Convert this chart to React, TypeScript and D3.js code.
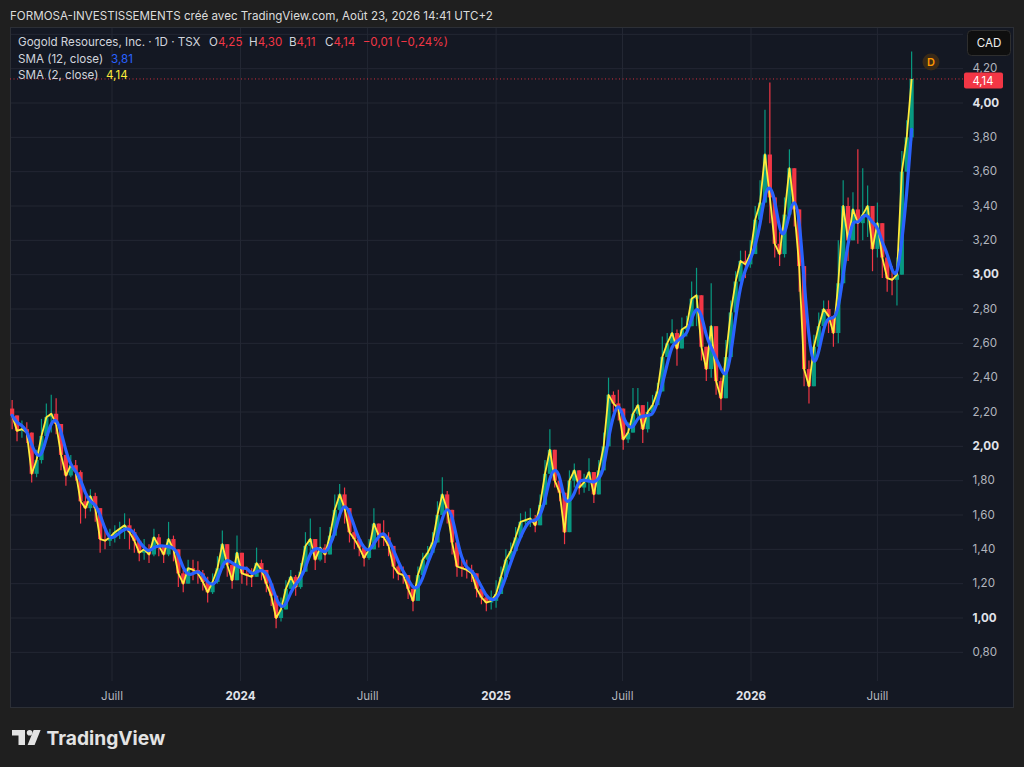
import * as d3 from "d3";

// weekly bars (TSX: GGD), first bar = week of 2023-02-06
const firstWeek = new Date(2023, 1, 8);
const firstOpen = 2.22;

const weekCloses = [
  2.18, 2.09, 2.1, 2.08, 1.84, 1.92, 2.06, 2.17, 2.19, 2.13,
  1.95, 1.83, 1.89, 1.85, 1.68, 1.64, 1.71, 1.64, 1.46, 1.45,
  1.47, 1.5, 1.52, 1.54, 1.5, 1.45, 1.38, 1.4, 1.37, 1.47,
  1.42, 1.37, 1.46, 1.4, 1.26, 1.2, 1.29, 1.28, 1.26, 1.21,
  1.15, 1.21, 1.29, 1.43, 1.31, 1.22, 1.38, 1.26, 1.25, 1.24,
  1.32, 1.28, 1.2, 1.13, 1.0, 1.05, 1.17, 1.24, 1.18, 1.27,
  1.42, 1.46, 1.34, 1.41, 1.37, 1.48, 1.63, 1.72, 1.64, 1.5,
  1.46, 1.41, 1.35, 1.4, 1.55, 1.48, 1.47, 1.42, 1.3, 1.26,
  1.25, 1.17, 1.1, 1.25, 1.34, 1.38, 1.44, 1.6, 1.72, 1.63,
  1.44, 1.3, 1.29, 1.28, 1.26, 1.17, 1.12, 1.09, 1.1, 1.14,
  1.24, 1.34, 1.39, 1.47, 1.56, 1.57, 1.58, 1.54, 1.66, 1.84,
  1.98, 1.8, 1.73, 1.5, 1.8, 1.86, 1.76, 1.79, 1.85, 1.72,
  1.86, 2.0, 2.3, 2.25, 2.22, 2.04, 2.08, 2.19, 2.24, 2.1,
  2.2, 2.24, 2.32, 2.52, 2.6, 2.66, 2.57, 2.68, 2.7, 2.86,
  2.88, 2.58, 2.45, 2.7, 2.38, 2.28, 2.52, 2.78, 2.96, 3.08,
  3.06, 3.12, 3.32, 3.42, 3.7, 3.45, 3.18, 3.12, 3.35, 3.62,
  3.38, 3.05, 2.45, 2.35, 2.58, 2.7, 2.8, 2.76, 2.66, 2.95,
  3.4, 3.2, 3.38, 3.3, 3.35, 3.4, 3.15, 3.3, 3.1, 2.98,
  2.97, 3.0, 3.6, 3.8, 4.14,
];

const weekHighs = [
  2.27, 2.16, 2.15, 2.14, 2.08, 1.98, 2.16, 2.25, 2.3, 2.28,
  2.08, 1.92, 1.95, 1.92, 1.86, 1.72, 1.75, 1.73, 1.58, 1.52,
  1.52, 1.54, 1.56, 1.61, 1.58, 1.52, 1.44, 1.46, 1.43, 1.52,
  1.49, 1.42, 1.56, 1.48, 1.35, 1.28, 1.34, 1.34, 1.33, 1.28,
  1.24, 1.26, 1.36, 1.51, 1.4, 1.3, 1.48, 1.33, 1.3, 1.29,
  1.41, 1.34, 1.27, 1.2, 1.08, 1.12, 1.22, 1.28, 1.25, 1.32,
  1.5, 1.58, 1.44, 1.53, 1.43, 1.53, 1.72, 1.78, 1.76, 1.58,
  1.54, 1.46, 1.4, 1.46, 1.64, 1.55, 1.57, 1.5, 1.38, 1.31,
  1.3, 1.23, 1.16, 1.3, 1.38, 1.42, 1.5, 1.68, 1.82, 1.74,
  1.58, 1.38, 1.35, 1.34, 1.31, 1.23, 1.18, 1.14, 1.16, 1.22,
  1.3, 1.4, 1.44, 1.53, 1.61, 1.62, 1.64, 1.6, 1.72, 1.92,
  2.1, 1.9, 1.8, 1.68, 1.86, 1.9, 1.82, 1.84, 1.93, 1.79,
  1.92, 2.08, 2.4, 2.32, 2.33, 2.1, 2.14, 2.34, 2.34, 2.2,
  2.26, 2.3, 2.37, 2.64, 2.66, 2.74, 2.68, 2.75, 2.76, 2.96,
  3.04, 2.8, 2.55, 2.95, 2.55, 2.4, 2.62, 2.85, 3.02, 3.14,
  3.14, 3.2, 3.4, 3.55, 3.96, 4.12, 3.4, 3.25, 3.45, 3.73,
  3.6, 3.3, 2.85, 2.5, 2.65, 2.78, 2.85, 2.85, 2.76, 3.2,
  3.55, 3.45, 3.48, 3.73, 3.62, 3.52, 3.35, 3.42, 3.22, 3.12,
  3.05, 3.1, 3.72, 3.9, 4.3,
];

const weekLows = [
  2.1, 2.03, 2.05, 2.02, 1.79, 1.82, 1.9, 2.06, 2.08, 2.07,
  1.86, 1.77, 1.82, 1.8, 1.55, 1.58, 1.62, 1.56, 1.38, 1.4,
  1.42, 1.44, 1.46, 1.46, 1.4, 1.38, 1.33, 1.34, 1.32, 1.36,
  1.36, 1.32, 1.36, 1.33, 1.18, 1.15, 1.2, 1.22, 1.2, 1.16,
  1.09, 1.14, 1.2, 1.32, 1.24, 1.17, 1.22, 1.2, 1.19, 1.18,
  1.24, 1.22, 1.15, 1.07, 0.94, 0.98, 1.08, 1.18, 1.13, 1.17,
  1.32, 1.38, 1.28, 1.33, 1.32, 1.4, 1.55, 1.62, 1.55, 1.44,
  1.4, 1.36, 1.3, 1.34, 1.44, 1.41, 1.42, 1.36, 1.23, 1.22,
  1.2, 1.11, 1.04, 1.1, 1.26, 1.31, 1.37, 1.48, 1.62, 1.55,
  1.37, 1.24, 1.24, 1.23, 1.21, 1.12, 1.08, 1.04, 1.05, 1.06,
  1.16, 1.27, 1.34, 1.4, 1.49, 1.52, 1.53, 1.5, 1.56, 1.72,
  1.9, 1.76, 1.68, 1.43, 1.55, 1.76, 1.72, 1.73, 1.74, 1.67,
  1.78, 1.9, 2.18, 2.2, 2.15, 1.98, 2.02, 2.13, 2.16, 2.02,
  2.08, 2.18, 2.26, 2.44, 2.52, 2.6, 2.47, 2.6, 2.64, 2.76,
  2.7, 2.5, 2.38, 2.4, 2.3, 2.21, 2.3, 2.58, 2.82, 2.98,
  2.98, 3.04, 3.16, 3.3, 3.45, 3.3, 3.1, 3.05, 3.1, 3.38,
  3.28, 2.9, 2.35, 2.25, 2.4, 2.58, 2.68, 2.66, 2.58, 2.6,
  3.12, 3.08, 3.22, 3.18, 3.2, 3.22, 3.02, 3.1, 2.98, 2.9,
  2.88, 2.82, 3.0, 3.6, 3.78,
];

const priceTicks = [0.8, 1.0, 1.2, 1.4, 1.6, 1.8, 2.0, 2.2, 2.4, 2.6, 2.8, 3.0, 3.2, 3.4, 3.6, 3.8, 4.0, 4.2, 4.4];
const timeTickDates = ["2023-07-01", "2024-01-01", "2024-07-01", "2025-01-01", "2025-07-01", "2026-01-01", "2026-07-01"];
const timeTickLabels = ["Juill", "2024", "Juill", "2025", "Juill", "2026", "Juill"];

// legend (last bar O/H/B/C) as shown in the header
const legendKeys = ["O", "H", "B", "C"];
const legendValues = [4.25, 4.3, 4.11, 4.14];
const legendKeyX = [209, 249, 289, 325];

const FONT = "Inter, Roboto, sans-serif";
const FS = 11.6;
const UP = "#089981";
const DOWN = "#f23645";
const BLUE = "#2962ff";
const YELLOW = "#ffeb3b";

const frFormat = d3.formatLocale({ decimal: ",", thousands: " ", grouping: [3], currency: ["", ""] }).format(".2f");

function sma(values: number[], n: number) {
  return values.map((_, i) => d3.mean(values.slice(Math.max(0, i - n + 1), i + 1)) as number);
}

export default function App() {
  const plot = { left: 10, right: 963, top: 27, bottom: 681, panelBottom: 708, panelRight: 1014 };

  const bars = weekCloses.map((close, i) => {
    const open = i === 0 ? firstOpen : weekCloses[i - 1];
    return {
      date: d3.timeDay.offset(firstWeek, i * 7),
      open,
      close,
      high: Math.max(weekHighs[i], open, close),
      low: Math.min(weekLows[i], open, close),
    };
  });

  const x = d3.scaleTime().domain([new Date(2024, 0, 1), new Date(2026, 0, 1)]).range([240.5, 751]);
  const y = d3.scaleLinear().domain([1, 4]).range([618, 103]);

  // 12 daily sessions ~ 3 weekly bars; the 2-session average follows the closes
  const slow = sma(weekCloses, 3);
  const fast = sma(weekCloses, 1);
  const lineSlow = d3
    .line<number>()
    .x((_, i) => x(bars[i].date))
    .y((d) => y(d))
    .curve(d3.curveBasis);
  const lineFast = d3
    .line<number>()
    .x((_, i) => x(bars[i].date))
    .y((d) => y(d));

  const last = bars[bars.length - 1];
  const bodyW = 4.2;

  return (
    <div style={{ position: "fixed", inset: 0, background: "#1f1f1f" }}>
      <svg width={1024} height={767} style={{ display: "block", fontFamily: FONT }}>
        <defs>
          <clipPath id="plotClip">
            <rect x={plot.left} y={plot.top} width={plot.right - plot.left} height={plot.panelBottom - plot.top} />
          </clipPath>
        </defs>
        <rect width={1024} height={767} fill="#1f1f1f" />

        {/* title bar */}
        <text x={10} y={19.5} fontSize={FS} fill="#dcdcdc">
          FORMOSA-INVESTISSEMENTS créé avec TradingView.com, Août 23, 2026 14:41 UTC+2
        </text>

        {/* chart panel */}
        <rect
          x={plot.left + 0.5}
          y={plot.top + 0.5}
          width={plot.panelRight - plot.left - 1}
          height={plot.panelBottom - plot.top - 1}
          fill="#141823"
          stroke="#2c2f36"
        />

        {/* grid */}
        {priceTicks.map((t) => (
          <line key={t} x1={plot.left + 1} x2={plot.right} y1={y(t)} y2={y(t)} stroke="#232733" />
        ))}
        {timeTickDates.map((d) => {
          const xx = x(new Date(d + "T00:00:00"));
          return <line key={d} x1={xx} x2={xx} y1={plot.top + 1} y2={plot.bottom} stroke="#232733" />;
        })}

        {/* candles */}
        <g clipPath="url(#plotClip)">
          {bars.map((b, i) => {
            const cx = x(b.date);
            const col = b.close >= b.open ? UP : DOWN;
            const yTop = y(Math.max(b.open, b.close));
            const yBot = y(Math.min(b.open, b.close));
            return (
              <g key={i}>
                <line x1={cx} x2={cx} y1={y(b.high)} y2={y(b.low)} stroke={col} strokeWidth={1.2} />
                <rect x={cx - bodyW / 2} y={yTop} width={bodyW} height={Math.max(1, yBot - yTop)} fill={col} />
              </g>
            );
          })}
          <path d={lineFast(fast) || ""} fill="none" stroke={YELLOW} strokeWidth={1.8} strokeLinejoin="round" />
          <path d={lineSlow(slow) || ""} fill="none" stroke={BLUE} strokeWidth={3.2} strokeLinecap="round" />
          <line
            x1={plot.left}
            x2={plot.right}
            y1={y(last.close)}
            y2={y(last.close)}
            stroke={DOWN}
            strokeWidth={1}
            strokeDasharray="1 2.5"
            opacity={0.85}
          />
        </g>

        {/* price axis */}
        {priceTicks
          .filter((t) => t < 4.3)
          .map((t) => {
            const major = Math.abs(t - Math.round(t)) < 1e-6;
            return (
              <text
                key={t}
                x={972.5}
                y={y(t)}
                dy="0.32em"
                fontSize={FS}
                fontWeight={major ? 700 : 400}
                fill={major ? "#e1e3ea" : "#b2b5be"}
              >
                {frFormat(t)}
              </text>
            );
          })}

        {/* last price label */}
        <rect x={964} y={72.5} width={39} height={16} rx={2} fill={DOWN} />
        <text x={972.5} y={81.4} dy="0.35em" fontSize={11.2} fill="#ffffff">
          {frFormat(last.close)}
        </text>

        {/* currency */}
        <rect x={967.5} y={30.5} width={43} height={25} rx={4} fill="#0f0f0f" stroke="#2e2e2e" />
        <text x={989} y={43} dy="0.35em" textAnchor="middle" fontSize={FS} fill="#f0f0f0">
          CAD
        </text>

        {/* dividend badge */}
        <circle cx={931} cy={62} r={8.5} fill="#3a2a17" />
        <text x={931} y={62} dy="0.36em" textAnchor="middle" fontSize={11} fontWeight={600} fill="#ff9800">
          D
        </text>

        {/* time axis */}
        {timeTickDates.map((d, i) => {
          const year = /^\d+$/.test(timeTickLabels[i]);
          return (
            <text
              key={d}
              x={x(new Date(d + "T00:00:00"))}
              y={696}
              dy="0.35em"
              textAnchor="middle"
              fontSize={FS}
              fontWeight={year ? 700 : 400}
              fill={year ? "#e1e3ea" : "#b2b5be"}
            >
              {timeTickLabels[i]}
            </text>
          );
        })}

        {/* legend */}
        <g fontSize={FS} fill="#d1d4dc">
          <text x={18} y={45.8}>Gogold Resources, Inc. · 1D · TSX</text>
          {legendKeys.map((k, i) => (
            <text key={k} x={legendKeyX[i]} y={45.8}>
              {k}
              <tspan fill={DOWN}>{frFormat(legendValues[i])}</tspan>
            </text>
          ))}
          <text x={362.7} y={45.8} fill={DOWN}>
            −0,01 (−0,24%)
          </text>
          <text x={18} y={62.6}>SMA (12, close)</text>
          <text x={111} y={62.6} fill={BLUE}>
            3,81
          </text>
          <text x={18} y={79.4}>SMA (2, close)</text>
          <text x={106} y={79.4} fill={YELLOW}>
            {frFormat(last.close)}
          </text>
        </g>

        {/* TradingView logo */}
        <g fill="#e3e3e3">
          <path d="M12,730 H25 V745 H18.5 V735.6 H12 Z" />
          <circle cx={29.6} cy={732.8} r={2.8} />
          <path d="M33.6,730 H40.6 L34.6,745 H27.6 Z" />
        </g>
        <text x={46.5} y={745} fontSize={19.2} fontWeight={700} fill="#e3e3e3">
          TradingView
        </text>
      </svg>
    </div>
  );
}
